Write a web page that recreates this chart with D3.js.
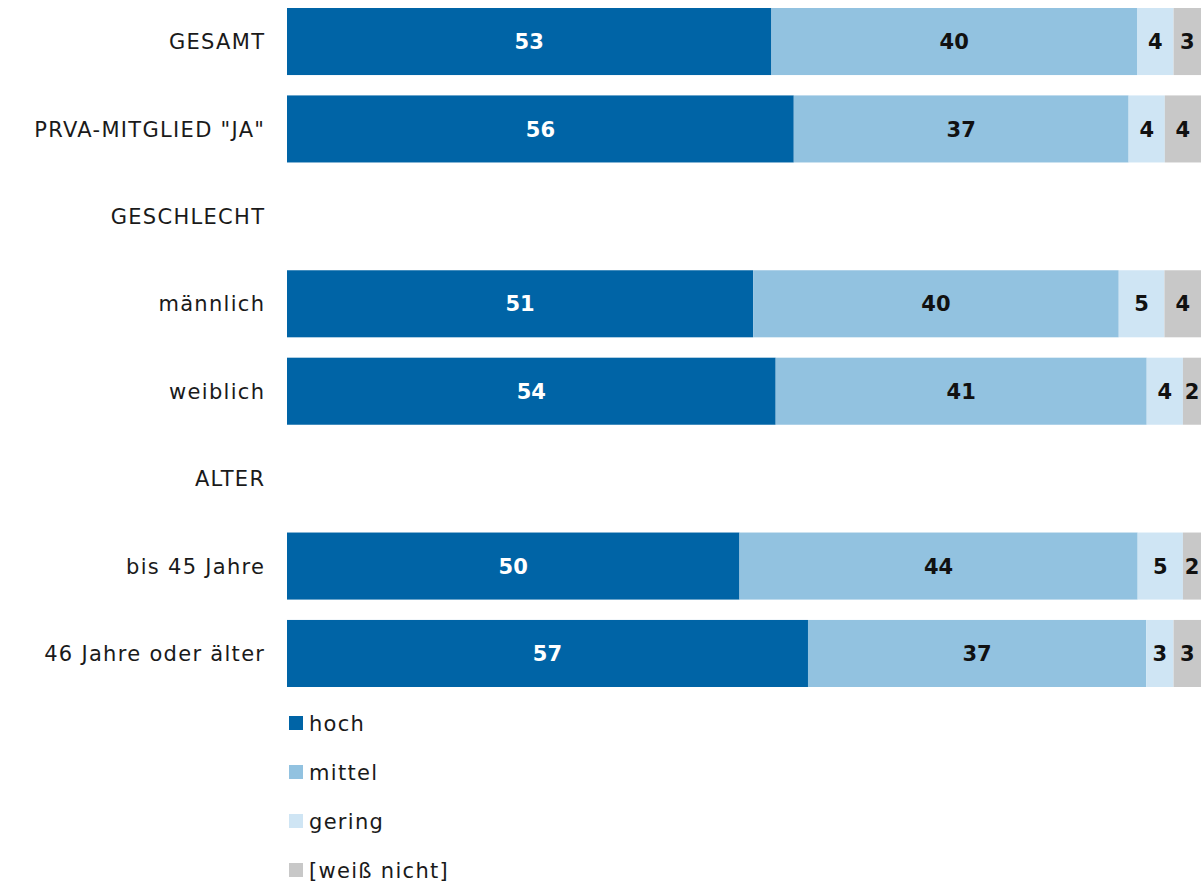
<!DOCTYPE html>
<html>
<head>
<meta charset="utf-8">
<script src="https://cdn.jsdelivr.net/npm/d3@7"></script>
<style>
  body { margin: 0; background: #fff; }
  text { font-family: "DejaVu Sans", sans-serif; }
</style>
</head>
<body>
<div id="chart"></div>
<script>

// rows (empty values = section heading)
var categories = ["GESAMT", 'PRVA-MITGLIED "JA"', "GESCHLECHT", "männlich", "weiblich", "ALTER", "bis 45 Jahre", "46 Jahre oder älter"]
var hoch   = [53, 56, null, 51, 54, null, 50, 57]
var mittel = [40, 37, null, 40, 41, null, 44, 37]
var gering = [4, 4, null, 5, 4, null, 5, 3]
var weissNicht = [3, 4, null, 4, 2, null, 2, 3]

var seriesNames = ["hoch", "mittel", "gering", "[weiß nicht]"]
var colors = ["#0064a6", "#92c2e0", "#cfe5f4", "#c8c8c8"]
var labelColors = ["#fff", "#111", "#111", "#111"]

var width = 1202
var height = 883
var margin = ({top: 8, right: 1, bottom: 196, left: 287})
var spacing = 1.3

var rows = categories.map((c, i) => ({
    cat: c,
    "hoch": hoch[i],
    "mittel": mittel[i],
    "gering": gering[i],
    "[weiß nicht]": weissNicht[i]
}))

var svg = d3.select("#chart")
  .append("svg")
    .attr("width", width)
    .attr("height", height)

var y = d3.scaleBand()
    .domain(categories)
    .range([margin.top, height - margin.bottom])
    .paddingInner(0.233)
    .paddingOuter(0)

var x = d3.scaleLinear()
    .domain([0, 1])
    .range([margin.left, width - margin.right])

var dataRows = rows.filter(d => d.hoch != null)

// bars are scaled to the sum of rounded values
var stack = d3.stack().keys(seriesNames).offset(d3.stackOffsetExpand)
var stacked = stack(dataRows)

var layers = svg.selectAll("g.layer")
  .data(stacked)
  .join("g")
    .attr("class", "layer")
    .attr("fill", (d, i) => colors[i])

layers.selectAll("rect")
  .data(d => d)
  .join("rect")
    .attr("x", d => x(d[0]))
    .attr("y", d => y(d.data.cat))
    .attr("width", d => x(d[1]) - x(d[0]))
    .attr("height", y.bandwidth())

layers.each(function(layer, i) {
    d3.select(this).selectAll("text")
      .data(layer)
      .join("text")
        .attr("x", d => (x(d[0]) + x(d[1])) / 2)
        .attr("y", d => y(d.data.cat) + y.bandwidth() / 2)
        .attr("dy", "0.36em")
        .attr("text-anchor", "middle")
        .attr("fill", labelColors[i])
        .attr("font-size", 21)
        .attr("font-weight", "bold")
        .text(d => d.data[layer.key])
})

// category labels
svg.append("g")
  .selectAll("text")
  .data(categories)
  .join("text")
    .attr("x", margin.left - 23 + spacing)
    .attr("y", d => y(d) + y.bandwidth() / 2)
    .attr("dy", "0.36em")
    .attr("text-anchor", "end")
    .attr("fill", "#1a1a1a")
    .attr("font-size", 21)
    .attr("letter-spacing", spacing)
    .text(d => d)

// legend
var legend = svg.append("g")
  .selectAll("g")
  .data(seriesNames)
  .join("g")
    .attr("transform", (d, i) => `translate(289,${723 + i * 49})`)

legend.append("rect")
    .attr("x", 0)
    .attr("y", -7)
    .attr("width", 14)
    .attr("height", 14)
    .attr("fill", (d, i) => colors[i])

legend.append("text")
    .attr("x", 20)
    .attr("dy", "0.36em")
    .attr("fill", "#1a1a1a")
    .attr("font-size", 21)
    .attr("letter-spacing", spacing)
    .text(d => d)

</script>
</body>
</html>
